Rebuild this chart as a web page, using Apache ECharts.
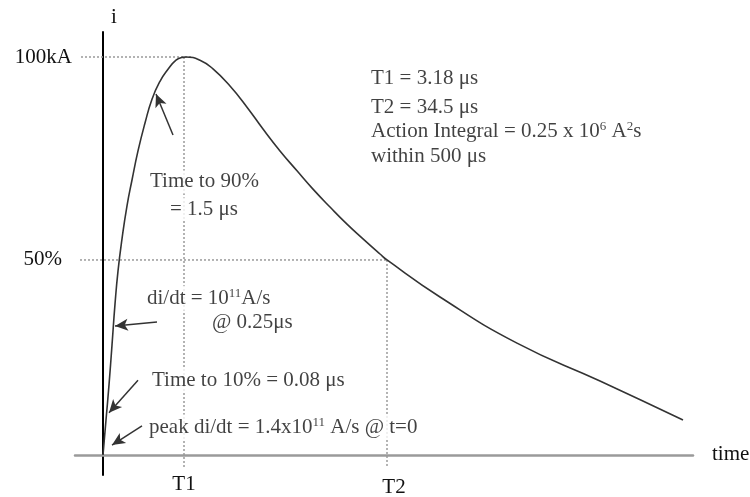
<!DOCTYPE html>
<html><head><meta charset="utf-8">
<script src="https://cdn.jsdelivr.net/npm/echarts@6/dist/echarts.min.js"></script>
<style>html,body{margin:0;padding:0;background:#fff}#c{width:750px;height:497px}</style>
</head><body><div id="c"></div>
<script>
// schematic time units (not linear in µs, as in the original sketch) and current in kA
const TIME    = [0, 3, 6, 9, 12, 15, 19, 24, 29, 35, 42, 49, 57, 65, 73, 79, 83, 97, 110, 127, 144, 160, 177, 194, 210, 227, 244, 260, 277, 284, 337, 414, 497, 580];
const CURRENT = [0, 8.8, 17.6, 27.6, 37.9, 46.2, 54.3, 62.6, 69.1, 76.4, 83.4, 89.4, 93.9, 96.9, 99.2, 99.9, 100, 99.2, 97.0, 92.7, 87.4, 81.9, 76.4, 71.4, 66.8, 62.3, 58.0, 54.3, 50.5, 49.0, 39.7, 28.1, 18.6, 8.8];

const PEAK = 100, HALF = 49;
const T1_X = 81, T2_X = 284;
const X_TICKS = [T1_X, T2_X], X_TICK_LABELS = ['T1', 'T2'];
const Y_TICKS = [PEAK, HALF], Y_TICK_LABELS = ['100kA', '50%'];

const NOTE_TEXT = ['T1 = 3.18 μs', 'T2 = 34.5 μs', 'Action Integral = 0.25 x 10{s|6} A{s|2}s', 'within 500 μs',
  'Time to 90%', '= 1.5 μs', 'di/dt = 10{s|11}A/s', '@ 0.25μs', 'Time to 10% = 0.08 μs', 'peak di/dt = 1.4x10{s|11} A/s @ t=0'];
const NOTE_X = [266, 266, 266, 266, 45, 65, 42, 107, 47, 44];
const NOTE_Y = [94.5, 87.4, 81.2, 74.9, 68.6, 61.8, 39.4, 33.4, 18.8, 7.0];

// arrows: [fromX, fromY, toX, toY]
const ARROWS = [[70, 80.4, 53, 90.7], [54, 33.4, 12, 32.4], [35, 18.8, 6, 10.6], [39, 7.3, 9, 2.5]];

const FONT = 'Liberation Serif';
const TXT = '#111';
const chart = echarts.init(document.getElementById('c'), null, {renderer: 'canvas'});
const dash = {color: '#9a9a9a', width: 1.5, type: [2, 2]};
const guide = (pts) => ({type: 'line', data: pts, symbol: 'none', silent: true, lineStyle: dash, z: 1, animation: false});

chart.setOption({
  animation: false,
  grid: {left: 75, right: 57, top: 32, bottom: 22, containLabel: false, outerBoundsMode: 'none'},
  xAxis: {
    type: 'value', min: -28, max: 590,
    name: 'time', nameLocation: 'end', nameGap: 19,
    nameTextStyle: {fontFamily: FONT, fontSize: 21, color: TXT, verticalAlign: 'middle'},
    axisLine: {onZero: true, lineStyle: {color: '#9a9a9a', width: 2.5}},
    axisTick: {show: false}, splitLine: {show: false},
    axisLabel: {
      customValues: X_TICKS, margin: -1, fontFamily: FONT, fontSize: 21, color: TXT,
      formatter: v => { const i = X_TICKS.indexOf(v); return i === 1 ? '{t2|' + X_TICK_LABELS[i] + '}' : X_TICK_LABELS[i]; },
      rich: {t2: {fontFamily: FONT, fontSize: 21, color: TXT, padding: [3, 0, 0, 14]}}
    }
  },
  yAxis: {
    type: 'value', min: -5.03, max: 106.28,
    name: 'i', nameLocation: 'end', nameGap: 4,
    nameTextStyle: {fontFamily: FONT, fontSize: 21, color: TXT, align: 'left', padding: [0, 0, 0, 8]},
    axisLine: {onZero: true, lineStyle: {color: '#000', width: 2}},
    axisTick: {show: false}, splitLine: {show: false},
    axisLabel: {
      customValues: Y_TICKS, margin: 3, fontFamily: FONT, fontSize: 21, color: TXT,
      formatter: v => { const i = Y_TICKS.indexOf(v); return i === 1 ? '{h|' + Y_TICK_LABELS[i] + '}' : Y_TICK_LABELS[i]; },
      rich: {h: {fontFamily: FONT, fontSize: 21, color: TXT, padding: [0, 10, 0, 0]}}
    }
  },
  series: [
    guide([[-22, PEAK], [89, PEAK]]),
    guide([[T1_X, PEAK], [T1_X, -3]]),
    guide([[-23, HALF], [T2_X, HALF]]),
    guide([[T2_X, HALF], [T2_X, -3.3]]),
    {
      type: 'line', data: TIME.map((t, i) => [t, CURRENT[i]]), symbol: 'none', smooth: 0.5,
      lineStyle: {color: '#333', width: 1.6}, z: 3, silent: true
    },
    {
      type: 'scatter', symbolSize: 0, clip: false, z: 5, silent: true,
      data: NOTE_TEXT.map((t, i) => ({value: [NOTE_X[i], NOTE_Y[i]], name: t})),
      label: {
        show: true, position: 'right', distance: 0, formatter: p => p.name,
        fontFamily: FONT, fontSize: 21, color: TXT, backgroundColor: '#fff', padding: [1, 2],
        rich: {s: {fontFamily: FONT, fontSize: 13, color: TXT, padding: [0, 0, 10, 0]}}
      },
      markLine: {
        silent: true, symbol: ['none', 'arrow'], symbolSize: [9, 13], animation: false,
        label: {show: false},
        lineStyle: {color: '#333', width: 1.5, type: 'solid'},
        data: ARROWS.map(a => [{coord: [a[0], a[1]]}, {coord: [a[2], a[3]]}])
      }
    }
  ]
});
</script></body></html>
